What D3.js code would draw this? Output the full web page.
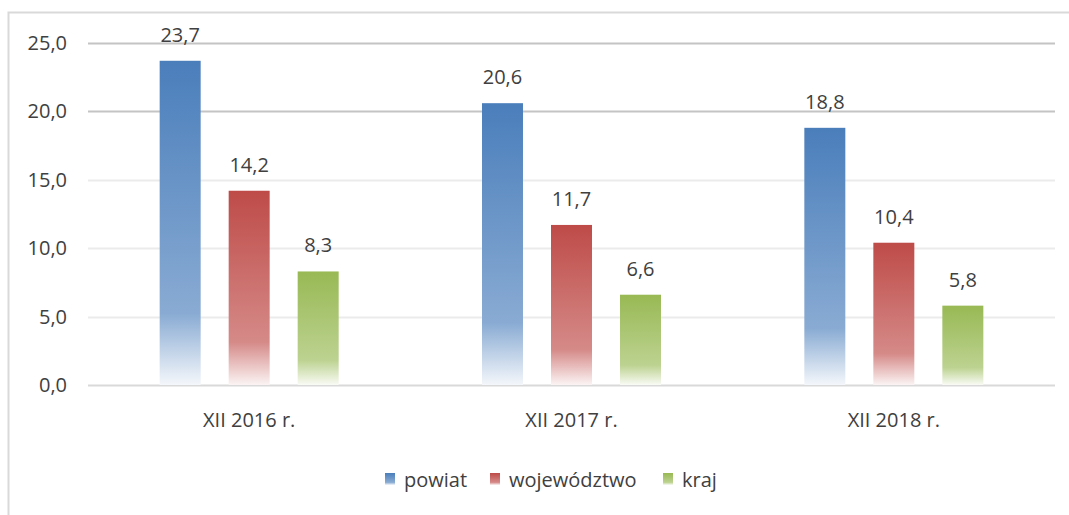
<!DOCTYPE html>
<html>
<head>
<meta charset="utf-8">
<script src="https://cdn.jsdelivr.net/npm/d3@7"></script>
<style>
  body { margin: 0; background: #fff; }
  text { font-family: "Open Sans", "Noto Sans", sans-serif; fill: #404040; }
</style>
</head>
<body>
<svg width="1069" height="515"></svg>
<script>
const categories = ["XII 2016 r.", "XII 2017 r.", "XII 2018 r."];
const seriesNames = ["powiat", "województwo", "kraj"];
const powiat = [23.7, 20.6, 18.8];
const wojewodztwo = [14.2, 11.7, 10.4];
const kraj = [8.3, 6.6, 5.8];
const yTicks = [0, 5, 10, 15, 20, 25];

const colors = ["#4a7ebb", "#be4b48", "#98b954"];

const svg = d3.select("svg");
const x0 = d3.scaleBand().domain(categories).range([88, 1055]);
const x1 = d3.scaleBand().domain(seriesNames).range([0, 179]).paddingInner(0.406);
const y = d3.scaleLinear().domain([0, 25]).range([385, 43]);

const fmt = v => d3.format(".1f")(v).replace(".", ",");

// chart frame (only left/top visible in reference)
svg.append("path")
    .attr("d", "M8.5,515 L8.5,12.5 L1069,12.5")
    .attr("fill", "none").attr("stroke", "#d9d9d9").attr("stroke-width", 2);

// gradients per series
const defs = svg.append("defs");
colors.forEach((c, i) => {
  const g = defs.append("linearGradient")
      .attr("id", "grad" + i)
      .attr("x1", 0).attr("y1", 0).attr("x2", 0).attr("y2", 1);
  const light = d3.interpolateRgb(c, "#fff");
  g.append("stop").attr("offset", "0%").attr("stop-color", c);
  g.append("stop").attr("offset", "78%").attr("stop-color", light(0.35));
  g.append("stop").attr("offset", "100%").attr("stop-color", light(0.94));
});

// gridlines
svg.append("g").selectAll("line")
  .data(yTicks)
  .join("line")
    .attr("x1", 88).attr("x2", 1055)
    .attr("y1", d => Math.round(y(d)) + 0.5).attr("y2", d => Math.round(y(d)) + 0.5)
    .attr("stroke", d => d >= 20 ? "#c4c4c4" : (d === 0 ? "#d9d9d9" : "#ebebeb"))
    .attr("stroke-width", 2);

// y axis labels
const yAxis = svg.append("g")
    .attr("transform", "translate(67,0)")
    .call(d3.axisLeft(y).tickValues(yTicks).tickFormat(fmt).tickSize(0).tickPadding(0));
yAxis.select(".domain").remove();
yAxis.selectAll("text")
    .style("font-size", "20px").style("fill", "#404040")
    .style("font-family", "'Open Sans', 'Noto Sans', sans-serif");

// x axis labels
const xAxis = svg.append("g")
    .attr("transform", "translate(0,413)")
    .call(d3.axisBottom(x0).tickSize(0).tickPadding(0));
xAxis.select(".domain").remove();
xAxis.selectAll("text")
    .style("font-size", "20px").style("fill", "#404040")
    .style("font-family", "'Open Sans', 'Noto Sans', sans-serif");

const series = [powiat, wojewodztwo, kraj];
const rows = categories.map((c, ci) => ({
  cat: c,
  vals: seriesNames.map((s, si) => ({s, si, v: series[si][ci]}))
}));

const groups = svg.append("g").selectAll("g")
  .data(rows)
  .join("g")
    .attr("transform", d => `translate(${x0(d.cat) + (x0.bandwidth() - 179) / 2},0)`);

groups.selectAll("rect")
  .data(d => d.vals)
  .join("rect")
    .attr("x", d => x1(d.s))
    .attr("width", x1.bandwidth())
    .attr("y", d => y(d.v))
    .attr("height", d => y(0) - y(d.v))
    .attr("fill", d => `url(#grad${d.si})`);

groups.selectAll("text.lbl")
  .data(d => d.vals)
  .join("text")
    .attr("class", "lbl")
    .attr("x", d => x1(d.s) + x1.bandwidth() / 2)
    .attr("y", d => y(d.v) - 19)
    .attr("text-anchor", "middle")
    .style("font-size", "20px")
    .text(d => fmt(d.v));

// legend
const legendX = [385, 490, 663];
const legend = svg.append("g").selectAll("g")
  .data(seriesNames)
  .join("g")
    .attr("transform", (d, i) => `translate(${legendX[i]},473)`);
legend.append("rect")
    .attr("width", 10).attr("height", 12)
    .attr("fill", (d, i) => `url(#grad${i})`);
legend.append("text")
    .attr("x", 19).attr("y", 14)
    .style("font-size", "20px")
    .text(d => d);
</script>
</body>
</html>
